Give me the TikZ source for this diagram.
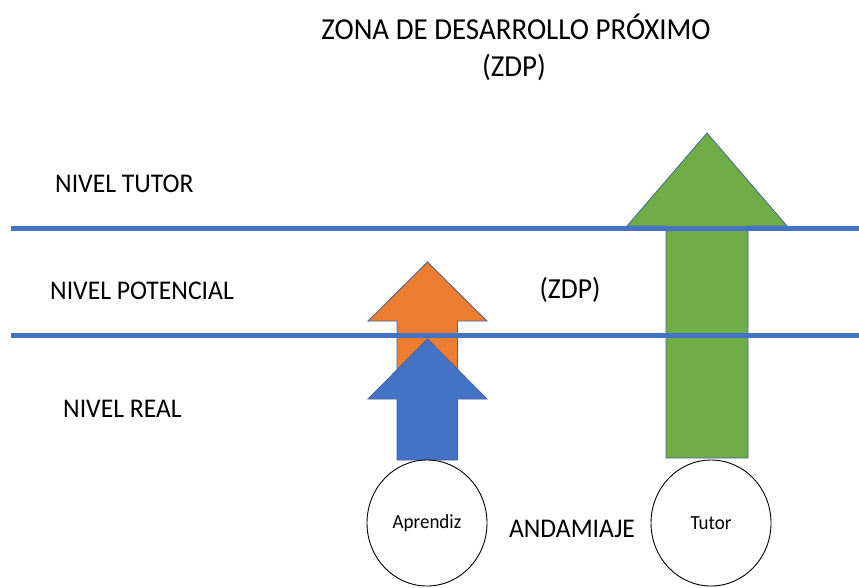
\documentclass[tikz,border=0pt]{standalone}
\usepackage{fontspec}
\setmainfont[FakeStretch=0.95]{Carlito}
\definecolor{lineblue}{HTML}{4472C4}
\definecolor{arrblue}{HTML}{4472C4}
\definecolor{arrorange}{HTML}{ED7D31}
\definecolor{arrgreen}{HTML}{70AD47}
\definecolor{edgeblue}{HTML}{41659F}
\tikzset{
  level/.style={line width=5pt, lineblue},
  blockarrow/.style={draw=edgeblue, line width=0.8pt, line join=miter},
  lbl/.style={font=\fontsize{27}{30}\selectfont, anchor=base west, inner sep=0pt},
  ttl/.style={font=\fontsize{30.5}{33}\selectfont, anchor=base, inner sep=0pt},
  midtxt/.style={anchor=base, inner sep=0pt},
  person/.style={draw=black, line width=0.9pt, fill=white, ellipse, minimum width=120pt, minimum height=126pt, inner sep=0pt, font=\fontsize{20}{22}\selectfont}
}
\usetikzlibrary{shapes.geometric}
\begin{document}
\begin{tikzpicture}[x=1pt,y=-1pt]
\useasboundingbox (0,0) rectangle (859,587);
% title
\node[ttl] (title) at (516,39) {ZONA DE DESARROLLO PRÓXIMO};
\node[ttl] (title2) at (514,76) {(ZDP)};
% level labels
\node[lbl] (ltutor) at (55,192) {NIVEL TUTOR};
\node[lbl] (lpot) at (50,299) {NIVEL POTENCIAL};
\node[lbl] (lreal) at (63,417) {NIVEL REAL};
\node[midtxt, font=\fontsize{29}{32}\selectfont] (zdp) at (570,298) {(ZDP)};
\node[midtxt, font=\fontsize{27}{30}\selectfont] (andam) at (572,537) {ANDAMIAJE};
% green arrow (tutor)
\draw[blockarrow, fill=arrgreen] (707,133) -- (787,226) -- (748,226) -- (748,458) -- (666,458) -- (666,226) -- (627,226) -- cycle;
% orange arrow
\draw[blockarrow, fill=arrorange] (427.5,262) -- (487,321) -- (457.5,321) -- (457.5,390) -- (397,390) -- (397,321) -- (368,321) -- cycle;
% blue arrow
\draw[blockarrow, fill=arrblue] (427.5,339) -- (487,399) -- (457.5,399) -- (457.5,460) -- (397,460) -- (397,399) -- (368,399) -- cycle;
% level lines
\coordinate (l1a) at (11,228);
\coordinate (l1b) at (859,228);
\coordinate (l2a) at (11,335);
\coordinate (l2b) at (859,335);
\draw[level] (l1a) -- (l1b);
\draw[level] (l2a) -- (l2b);
% persons
\node[person] (aprendiz) at (427,523) {Aprendiz};
\node[person] (tutor) at (711,523) {Tutor};
\end{tikzpicture}
\end{document}
